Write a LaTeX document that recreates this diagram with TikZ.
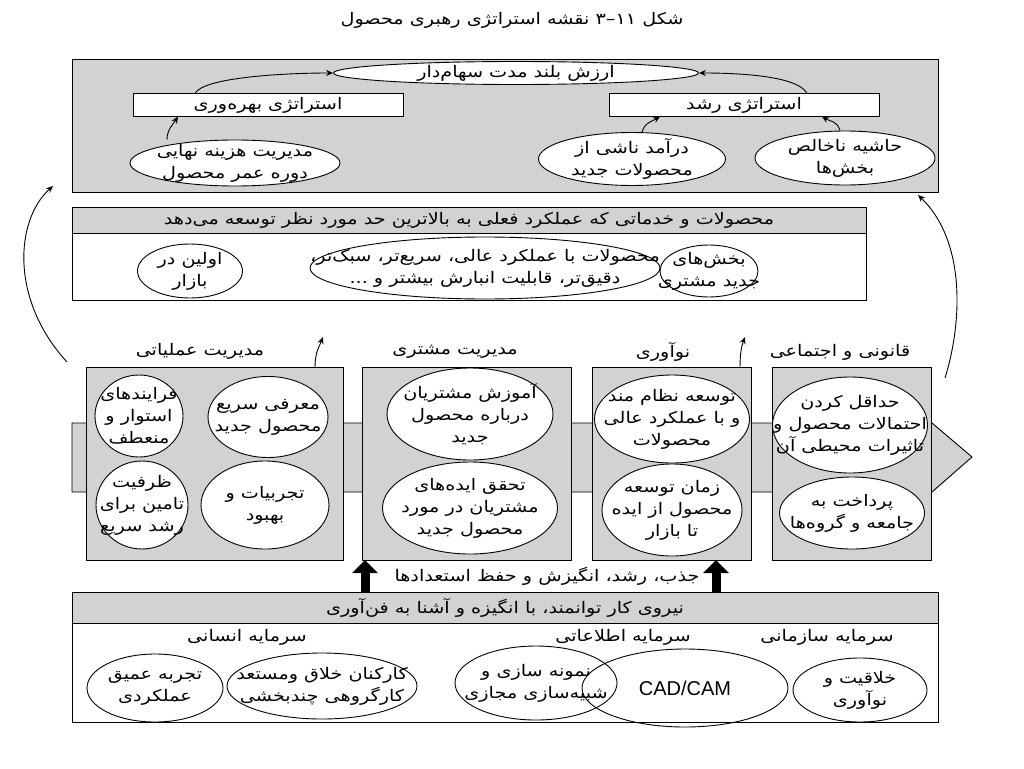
\documentclass[tikz,border=0pt]{standalone}
\usepackage{fontspec}
\setmainfont{DejaVu Sans}
\newfontfamily\arabicfont[Script=Arabic, FakeStretch=1.2]{DejaVu Sans}
\newfontfamily\latinfont{Liberation Sans}
\TeXXeTstate=1
\usetikzlibrary{shapes.geometric,arrows.meta}
\newcommand{\FA}[1]{\beginR #1\endR}
\tikzset{
  fa/.style={font=\arabicfont\fontsize{16}{22}\selectfont, align=center, inner sep=0pt},
  ell/.style={ellipse, draw, fill=white, line width=0.9pt, inner sep=0pt},
  rbox/.style={rectangle, draw, line width=0.9pt, inner sep=0pt, outer sep=0pt, fa},
  gfill/.style={fill=gray!35},
  arr/.style={-{Stealth[length=7pt,width=6pt]}, line width=0.9pt},
  bigup/.style={line width=9pt, -{Triangle[length=13pt,width=25pt]}},
}
\begin{document}
\begin{tikzpicture}[x=1pt,y=-1pt]
\useasboundingbox (0,0) rectangle (1024,768);
\fill[white] (0,0) rectangle (1024,768);

% title
\node[fa] (title) at (512,20) {\FA{شکل ۱۱\kern0pt–\kern0pt۳ نقشه استراتژی رهبری محصول}};

% ---------- top box ----------
\node[rbox, gfill, anchor=north west, minimum width=866pt, minimum height=133pt] (topbox) at (72,59) {};
\node[ell, minimum width=365pt, minimum height=23pt] (sv) at (516,73) {};
\node[fa] (svt) at (sv.center) {\FA{ارزش بلند مدت سهام^^^^200cدار}};
\node[rbox, fill=white, minimum width=270pt, minimum height=23pt] (prodstrat) at (268,105) {\FA{استراتژی بهره^^^^200cوری}};
\node[rbox, fill=white, minimum width=270pt, minimum height=23pt] (growstrat) at (744,105) {\FA{استراتژی رشد}};
\node[ell, minimum width=210pt, minimum height=46pt] (mcost) at (235,163) {};
\node[fa] (mcostt) at (mcost.center) {\FA{مدیریت هزینه نهایی}\\\FA{دوره عمر محصول}};
\node[ell, minimum width=187pt, minimum height=53pt] (rev) at (632,159) {};
\node[fa] (revt) at (rev.center) {\FA{درآمد ناشی از}\\\FA{محصولات جدید}};
\node[ell, minimum width=180pt, minimum height=54pt] (gm) at (845,158) {};
\node[fa] (gmt) at (gm.center) {\FA{حاشیه ناخالص}\\\FA{بخش^^^^200cها}};

\draw[arr] ([xshift=62pt]prodstrat.north west) .. controls +(8,-16) and +(-50,0) .. (sv.west);
\draw[arr] ([xshift=-72pt]growstrat.north east) .. controls +(-8,-16) and +(50,0) .. (sv.east);
\draw[arr] ([xshift=-68pt]mcost.north) .. controls +(0,-10) and +(-5,8) .. ([xshift=45pt]prodstrat.south west);
\draw[arr] ([xshift=10pt]rev.north) .. controls +(3,-10) and +(-8,5) .. ([xshift=51pt]growstrat.south west);
\draw[arr] ([xshift=-5pt]gm.north) .. controls +(-3,-10) and +(8,5) .. ([xshift=-57pt]growstrat.south east);

% ---------- middle box ----------
\node[rbox, gfill, anchor=north west, minimum width=794pt, minimum height=26pt] (mhead) at (72,207) {\FA{محصولات و خدماتی که عملکرد فعلی به بالاترین حد مورد نظر توسعه می^^^^200cدهد}};
\node[rbox, fill=white, anchor=north west, minimum width=794pt, minimum height=67pt] (mbody) at (72,233) {};
\node[ell, minimum width=105pt, minimum height=54pt] (first) at (190,271) {};
\node[fa] (firstt) at (first.center) {\FA{اولین در}\\\FA{بازار}};
\node[ell, minimum width=350pt, minimum height=62pt] (perf) at (485,268) {};
\node[fa] (perft) at (perf.center) {\FA{محصولات با عملکرد عالی، سریع^^^^200cتر، سبک^^^^200cتر،}\\\FA{دقیق^^^^200cتر، قابلیت انبارش بیشتر و ...}};
\node[ell, minimum width=98pt, minimum height=52pt] (seg) at (709,271) {};
\node[fa] (segt) at (seg.center) {\FA{بخش^^^^200cهای}\\\FA{جدید مشتری}};

% ---------- band arrow ----------
\draw[gfill, line width=0.9pt] (72,423) -- (932,423) -- (972,457) -- (932,492) -- (72,492) -- cycle;

% ---------- four boxes ----------
\node[rbox, gfill, anchor=north west, minimum width=257pt, minimum height=193pt] (b1) at (86,367) {};
\node[rbox, gfill, anchor=north west, minimum width=209pt, minimum height=193pt] (b2) at (362,367) {};
\node[rbox, gfill, anchor=north west, minimum width=159pt, minimum height=193pt] (b3) at (592,367) {};
\node[rbox, gfill, anchor=north west, minimum width=159pt, minimum height=193pt] (b4) at (772,367) {};

\node[fa] (l1) at (200,351) {\FA{مدیریت عملیاتی}};
\node[fa] (l2) at (455,352) {\FA{مدیریت مشتری}};
\node[fa] (l3) at (663,352) {\FA{نوآوری}};
\node[fa] (l4) at (840,352) {\FA{قانونی و اجتماعی}};

\node[ell, minimum width=88pt, minimum height=82pt] (e11) at (139,416) {};
\node[fa] (e11t) at (e11.center) {\FA{فرایندهای}\\\FA{استوار و}\\\FA{منعطف}};
\node[ell, minimum width=120pt, minimum height=81pt] (e12) at (268,417) {};
\node[fa] (e12t) at (e12.center) {\FA{معرفی سریع}\\\FA{محصول جدید}};
\node[ell, minimum width=92pt, minimum height=88pt] (e13) at (142,505) {};
\node[fa] (e13t) at (e13.center) {\FA{ظرفیت}\\\FA{تامین برای}\\\FA{رشد سریع}};
\node[ell, minimum width=128pt, minimum height=88pt] (e14) at (265,505) {};
\node[fa] (e14t) at (e14.center) {\FA{تجربیات و}\\\FA{بهبود}};

\node[ell, minimum width=166pt, minimum height=92pt] (e21) at (470,414) {};
\node[fa] (e21t) at (e21.center) {\FA{آموزش مشتریان}\\\FA{درباره محصول}\\\FA{جدید}};
\node[ell, minimum width=175pt, minimum height=92pt] (e22) at (470,508) {};
\node[fa] (e22t) at (e22.center) {\FA{تحقق ایده^^^^200cهای}\\\FA{مشتریان در مورد}\\\FA{محصول جدید}};

\node[ell, minimum width=155pt, minimum height=88pt] (e31) at (672,419) {};
\node[fa] (e31t) at (e31.center) {\FA{توسعه نظام مند}\\\FA{و با عملکرد عالی}\\\FA{محصولات}};
\node[ell, minimum width=140pt, minimum height=92pt] (e32) at (672,510) {};
\node[fa] (e32t) at (e32.center) {\FA{زمان توسعه}\\\FA{محصول از ایده}\\\FA{تا بازار}};

\node[ell, minimum width=155pt, minimum height=96pt] (e41) at (850,425) {};
\node[fa] (e41t) at (e41.center) {\FA{حداقل کردن}\\\FA{احتمالات محصول و}\\\FA{تاثیرات محیطی آن}};
\node[ell, minimum width=145pt, minimum height=72pt] (e42) at (852,513) {};
\node[fa] (e42t) at (e42.center) {\FA{پرداخت به}\\\FA{جامعه و گروه^^^^200cها}};

% small arrows above boxes
\coordinate (t1) at (323,337);
\coordinate (t3) at (745,337);
\draw[arr] ([xshift=-28pt]b1.north east) .. controls +(0,-15) and +(-3,8) .. (t1);
\draw[arr] ([xshift=-11pt]b3.north east) .. controls +(0,-15) and +(-3,8) .. (t3);

% big side arrows
\coordinate (ls) at (67,362);
\coordinate (le) at (53,186);
\coordinate (rs) at (945,378);
\coordinate (re) at (918,195);
\draw[arr] (ls) .. controls +(-57,-62) and +(-38,34) .. (le);
\draw[arr] (rs) .. controls +(18,-58) and +(47,45) .. (re);

% ---------- bottom box ----------
\node[rbox, gfill, anchor=north west, minimum width=866pt, minimum height=31pt] (bhead) at (72,592) {\FA{نیروی کار توانمند، با انگیزه و آشنا به فن^^^^200cآوری}};
\node[rbox, fill=white, anchor=north west, minimum width=866pt, minimum height=99pt] (bbody) at (72,623) {};

\node[fa] (h1) at (247,637) {\FA{سرمایه انسانی}};
\node[fa] (h2) at (623,637) {\FA{سرمایه اطلاعاتی}};
\node[fa] (h3) at (827,637) {\FA{سرمایه سازمانی}};

\node[ell, minimum width=136pt, minimum height=68pt] (deep) at (155,688) {};
\node[fa] (deept) at (deep.center) {\FA{تجربه عمیق}\\\FA{عملکردی}};
\node[ell, minimum width=190pt, minimum height=66pt] (staff) at (322,686) {};
\node[fa] (stafft) at (staff.center) {\FA{کارکنان خلاق ومستعد}\\\FA{کارگروهی چندبخشی}};
\node[ell, minimum width=162pt, minimum height=74pt] (proto) at (536,683) {};
\node[fa] (protot) at (proto.center) {\FA{نمونه سازی و}\\\FA{شبیه^^^^200cسازی مجازی}};
\node[ell, fill=none, minimum width=206pt, minimum height=78pt, font=\latinfont\fontsize{20}{22}\selectfont] (cad) at (685,688) {CAD/CAM};
\node[ell, minimum width=134pt, minimum height=64pt] (creat) at (860,690) {};
\node[fa] (creatt) at (creat.center) {\FA{خلاقیت و}\\\FA{نوآوری}};

% thick arrows and talent text
\coordinate (u1) at ([xshift=3pt]b2.south west);
\coordinate (u2) at ([xshift=124pt]b3.south west);
\draw[bigup] (bhead.north -| u1) -- (u1);
\draw[bigup] (bhead.north -| u2) -- (u2);
\node[fa] (talent) at (547,576) {\FA{جذب، رشد، انگیزش و حفظ استعدادها}};
\end{tikzpicture}
\end{document}
